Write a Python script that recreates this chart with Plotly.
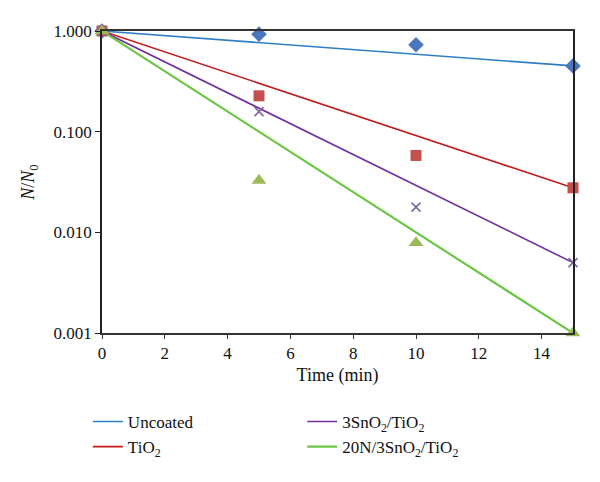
import plotly.graph_objects as go

time_min = [0, 5, 10, 15]
series_names = ["Uncoated", "TiO<sub>2</sub>", "3SnO<sub>2</sub>/TiO<sub>2</sub>", "20N/3SnO<sub>2</sub>/TiO<sub>2</sub>"]
uncoated = [1.0, 0.93, 0.73, 0.45]
tio2 = [1.0, 0.227, 0.058, 0.0277]
sno2_tio2 = [1.0, 0.158, 0.0178, 0.0050]
n_sno2_tio2 = [1.0, 0.0327, 0.0079, 0.0010]

y_tickvals = [0.001, 0.01, 0.1, 1]
x_tickvals = [0, 2, 4, 6, 8, 10, 12, 14]

series = [uncoated, tio2, sno2_tio2, n_sno2_tio2]
line_colors = ["#2f7fc4", "#c41a1a", "#7030a0", "#6cc644"]
marker_colors = ["#4a76bd", "#c4504d", "#8166a6", "#9bbb59"]
symbols = ["diamond", "square", "x-thin", "triangle-up"]
msizes = [12, 11, 9, 13]
line_widths = [1.6, 1.6, 1.6, 2.2]
legends = ["legend", "legend", "legend2", "legend2"]

fig = go.Figure()
# trend lines (from first to last measurement)
for name, vals, lc, lw, lg in zip(series_names, series, line_colors, line_widths, legends):
    fig.add_trace(go.Scatter(
        x=[time_min[0], time_min[-1]], y=[vals[0], vals[-1]], mode="lines",
        line=dict(color=lc, width=lw), name=name, legend=lg, showlegend=True,
        cliponaxis=False, hoverinfo="skip"))
# markers
for name, vals, mc, sym, ms in zip(series_names, series, marker_colors, symbols, msizes):
    mk = dict(color=mc, symbol=sym, size=ms)
    if sym == "x-thin":
        mk["line"] = dict(color=mc, width=1.6)
    fig.add_trace(go.Scatter(
        x=time_min, y=vals, mode="markers", marker=mk, name=name,
        showlegend=False, cliponaxis=False))

font_family = "Liberation Serif, DejaVu Serif, serif"
fig.update_layout(
    width=600, height=482,
    paper_bgcolor="white", plot_bgcolor="white",
    margin=dict(l=94, r=35, t=23, b=157),
    font=dict(family=font_family, size=17, color="#111"),
    xaxis=dict(
        range=[0, 15], tickvals=x_tickvals, ticks="outside", ticklen=4,
        tickcolor="#333", linecolor="#333", linewidth=1.8, mirror=True,
        showgrid=False, zeroline=False, tickfont=dict(size=17),
        title=dict(text="Time (min)", font=dict(size=18), standoff=6),
    ),
    yaxis=dict(
        type="log", range=[-3, 0], tickvals=y_tickvals, tickformat=".3f",
        ticks="outside", ticklen=5, tickcolor="#222", tickfont=dict(size=17),
        linecolor="#222", linewidth=1.6, mirror=True,
        showgrid=False, zeroline=False,
        title=dict(text="<i>N</i>/<i>N</i><sub>0</sub>", font=dict(size=18), standoff=14),
    ),
    legend=dict(x=-0.03, y=-0.235, xanchor="left", yanchor="top",
                orientation="v", font=dict(size=17), tracegroupgap=0,
                itemwidth=30, bgcolor="rgba(0,0,0,0)"),
    legend2=dict(x=0.425, y=-0.235, xanchor="left", yanchor="top",
                 orientation="v", font=dict(size=17), tracegroupgap=0,
                 itemwidth=30, bgcolor="rgba(0,0,0,0)"),
)

fig.write_html("out.html")
